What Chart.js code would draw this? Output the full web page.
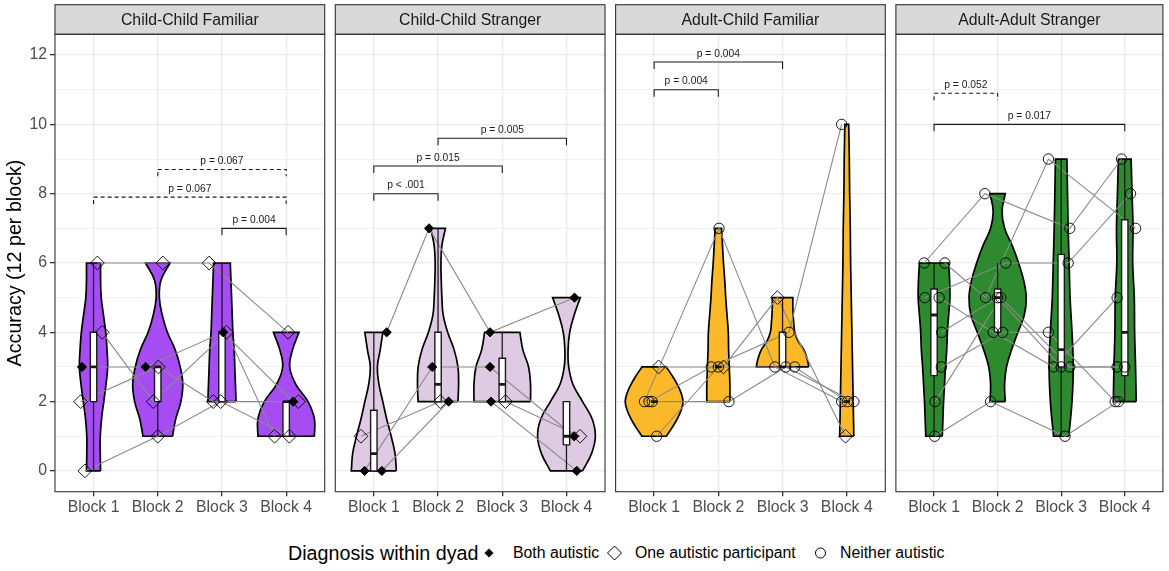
<!DOCTYPE html>
<html>
<head>
<meta charset="utf-8">
<script src="https://cdn.jsdelivr.net/npm/chart.js@4/dist/chart.umd.min.js"></script>
<style>
  body { margin: 0; background: #fff; width: 1169px; height: 571px; overflow: hidden; position: relative;
         font-family: "Liberation Sans", Arial, Helvetica, sans-serif; }
  canvas { position: absolute; left: 0; top: 0; }
  #legend { position: absolute; left: 0; top: 553px; width: 1169px; height: 0; }
  #legend > * { position: absolute; transform: translateY(-50%); white-space: nowrap; }
  #legend .title { font-size: 19.7px; color: #000; }
  #legend .item { font-size: 15.8px; color: #000; }
</style>
</head>
<body>
<canvas id="p0" width="1169" height="530"></canvas>
<canvas id="p1" width="1169" height="530"></canvas>
<canvas id="p2" width="1169" height="530"></canvas>
<canvas id="p3" width="1169" height="530"></canvas>

<div id="legend">
  <span class="title" style="left:288px">Diagnosis within dyad</span>
  <svg style="left:483px" width="12" height="12"><polygon points="6,1.5 10.5,6 6,10.5 1.5,6" fill="#000"/></svg>
  <span class="item" style="left:513px">Both autistic</span>
  <svg style="left:606px" width="17" height="17"><polygon points="8.5,1.5 15.5,8.5 8.5,15.5 1.5,8.5" fill="none" stroke="#000" stroke-width="1"/></svg>
  <span class="item" style="left:635px">One autistic participant</span>
  <svg style="left:814px" width="13" height="13"><circle cx="6.5" cy="6.5" r="5" fill="none" stroke="#000" stroke-width="1"/></svg>
  <span class="item" style="left:840px">Neither autistic</span>
</div>

<script>
const FONT = '"Liberation Sans", Arial, Helvetica, sans-serif';

const panelTitles = ['Child-Child Familiar', 'Child-Child Stranger', 'Adult-Child Familiar', 'Adult-Adult Stranger'];
const blocks = ['Block 1', 'Block 2', 'Block 3', 'Block 4'];
const yTickLabels = [0, 2, 4, 6, 8, 10, 12];
const yMinorLines = [1, 3, 5, 7, 9, 11];

// one row per dyad, one score per block
const ccfScores = [[3, 3, 4, 2], [6, 6, 6, 4], [4, 2, 4, 1], [2, 3, 2, 2], [0, 1, 2, 1]];
const ccfDiagnosis = ['both', 'one', 'one', 'one', 'one'];
const ccfJitter = [[-0.18, -0.19, 0.02, 0.11], [0.06, 0.08, -0.2, 0.03], [0.135, -0.07, 0.07, -0.18],
                   [-0.2, 0.01, -0.135, 0.19], [-0.135, 0, -0.02, 0.05]];
// violin half widths, bottom (block min) to top (block max), evenly spaced
const ccfViolin = [
  [0.11, 0.105, 0.105, 0.125, 0.16, 0.195, 0.22, 0.21, 0.19, 0.155, 0.12, 0.11, 0.11],
  [0.23, 0.28, 0.36, 0.39, 0.35, 0.27, 0.15, 0.07, 0.025, 0.05, 0.19],
  [0.22, 0.21, 0.2, 0.19, 0.17, 0.16, 0.15, 0.14, 0.13],
  [0.44, 0.44, 0.34, 0.15, 0.055, 0.1, 0.2]
];
const ccfPairs = [[2, 4], [1, 4], [3, 4]];
const ccfPairY = [8.7, 7.9, 7.0];
const ccfPairP = ['p = 0.067', 'p = 0.067', 'p = 0.004'];
const ccfPairDashed = [true, true, false];

const ccsScores = [[4, 7, 4, 5], [0, 3, 3, 1], [0, 2, 2, 0], [1, 2, 2, 1]];
const ccsDiagnosis = ['both', 'both', 'both', 'one'];
const ccsJitter = [[0.2, -0.14, -0.19, 0.125], [-0.145, -0.09, -0.19, 0.12],
                   [0.125, 0.165, -0.175, 0.16], [-0.2, 0.035, 0.05, 0.21]];
const ccsViolin = [
  [0.35, 0.33, 0.27, 0.2, 0.14, 0.08, 0.055, 0.1, 0.14],
  [0.31, 0.32, 0.31, 0.25, 0.15, 0.08, 0.06, 0.05, 0.045, 0.06, 0.115],
  [0.44, 0.44, 0.41, 0.32, 0.275],
  [0.25, 0.39, 0.45, 0.4, 0.25, 0.1, 0.035, 0.025, 0.05, 0.12, 0.215]
];
const ccsPairs = [[2, 4], [1, 3], [1, 2]];
const ccsPairY = [9.6, 8.8, 8.0];
const ccsPairP = ['p = 0.005', 'p = 0.015', 'p < .001'];
const ccsPairDashed = [false, false, false];

const acfScores = [[3, 3, 5, 1], [2, 7, 3, 2], [2, 3, 4, 10], [2, 2, 3, 2], [1, 3, 3, 2]];
const acfDiagnosis = ['one', 'neither', 'neither', 'neither', 'neither'];
const acfJitter = [[0.07, 0.08, -0.08, -0.02], [-0.15, 0.01, -0.12, -0.08], [-0.08, -0.11, 0.1, -0.08],
                   [-0.03, 0.165, 0.05, 0.11], [0.04, 0, 0.19, 0.01]];
const acfViolin = [
  [0.19, 0.28, 0.36, 0.42, 0.45, 0.42, 0.36, 0.28, 0.19],
  [0.18, 0.18, 0.17, 0.16, 0.155, 0.135, 0.115, 0.1, 0.08, 0.065, 0.05],
  [0.41, 0.38, 0.33, 0.24, 0.19, 0.175, 0.165, 0.16, 0.16],
  [0.11, 0.1, 0.09, 0.08, 0.07, 0.06, 0.055, 0.045, 0.04, 0.03]
];
const acfPairs = [[1, 3], [1, 2]];
const acfPairY = [11.8, 11.0];
const acfPairP = ['p = 0.004', 'p = 0.004'];
const acfPairDashed = [false, false];

const aasScores = [[6, 8, 7, 9], [6, 5, 9, 7], [5, 6, 6, 8], [5, 4, 3, 5],
                   [4, 5, 3, 3], [3, 4, 4, 2], [2, 5, 3, 3], [1, 2, 1, 2]];
const aasDiagnosis = ['neither', 'neither', 'neither', 'neither', 'neither', 'neither', 'neither', 'neither'];
const aasJitter = [[-0.155, -0.2, 0.135, -0.05], [0.17, -0.19, -0.2, 0.17], [-0.145, 0.13, 0.11, 0.09],
                   [0.08, -0.07, -0.12, -0.12], [0.12, 0, 0, -0.12], [0.115, 0.08, -0.2, -0.15],
                   [0.015, 0.05, 0.135, 0], [0.01, -0.11, 0.06, -0.1]];
const aasViolin = [
  [0.13, 0.14, 0.15, 0.165, 0.18, 0.2, 0.21, 0.23, 0.25, 0.245, 0.23],
  [0.12, 0.11, 0.14, 0.22, 0.32, 0.42, 0.45, 0.41, 0.33, 0.23, 0.11, 0.07, 0.12],
  [0.12, 0.17, 0.19, 0.17, 0.14, 0.125, 0.11, 0.1, 0.09],
  [0.18, 0.17, 0.155, 0.15, 0.125, 0.13, 0.115, 0.1]
];
const aasPairs = [[1, 2], [1, 4]];
const aasPairY = [10.9, 10.0];
const aasPairP = ['p = 0.052', 'p = 0.017'];
const aasPairDashed = [true, false];

// ---- look ----
const violinColors = ['#A64CF3', '#DECAE3', '#FBB829', '#2E8A2E'];
const PANEL_LEFT = 55, PANEL_W = 269.7, PANEL_PITCH = 280.3;
const STRIP_TOP = 4.7, AREA_TOP = 34.3, CANVAS_H = 530, AREA_BOTTOM = 491.7;
const BOX_HALF = 0.05, TIP = 0.2;
const pointLook = {
  both:    { pointStyle: 'rectRot', pointRadius: 4.6, pointBackgroundColor: '#000', pointBorderWidth: 1 },
  one:     { pointStyle: 'rectRot', pointRadius: 6.9, pointBackgroundColor: 'rgba(0,0,0,0)', pointBorderWidth: 0.9 },
  neither: { pointStyle: 'circle',  pointRadius: 5.2, pointBackgroundColor: 'rgba(0,0,0,0)', pointBorderWidth: 0.9 }
};

const panels = [
  { scores: ccfScores, diag: ccfDiagnosis, jitter: ccfJitter, violin: ccfViolin, pairs: ccfPairs, pairY: ccfPairY, pairP: ccfPairP, dashed: ccfPairDashed },
  { scores: ccsScores, diag: ccsDiagnosis, jitter: ccsJitter, violin: ccsViolin, pairs: ccsPairs, pairY: ccsPairY, pairP: ccsPairP, dashed: ccsPairDashed },
  { scores: acfScores, diag: acfDiagnosis, jitter: acfJitter, violin: acfViolin, pairs: acfPairs, pairY: acfPairY, pairP: acfPairP, dashed: acfPairDashed },
  { scores: aasScores, diag: aasDiagnosis, jitter: aasJitter, violin: aasViolin, pairs: aasPairs, pairY: aasPairY, pairP: aasPairP, dashed: aasPairDashed }
];

function quantile(sorted, p) {
  const h = (sorted.length - 1) * p;
  const lo = Math.floor(h);
  const next = lo + 1 < sorted.length ? sorted[lo + 1] : sorted[lo];
  return sorted[lo] + (h - lo) * (next - sorted[lo]);
}

function boxStats(values) {
  const s = [...values].sort((a, b) => a - b);
  const q1 = quantile(s, 0.25), med = quantile(s, 0.5), q3 = quantile(s, 0.75);
  const iqr = q3 - q1;
  const lo = Math.min(...s.filter(v => v >= q1 - 1.5 * iqr));
  const hi = Math.max(...s.filter(v => v <= q3 + 1.5 * iqr));
  return { q1, med, q3, lo, hi };
}

// closed outline: right side upwards, left side downwards, corners doubled to stay sharp
function violinOutline(center, lo, hi, widths) {
  const n = widths.length;
  const ys = widths.map((w, k) => lo + (hi - lo) * k / (n - 1));
  const right = widths.map((w, k) => ({ x: center + w, y: ys[k] }));
  const left = widths.map((w, k) => ({ x: center - w, y: ys[k] })).reverse();
  return [right[0], ...right, right[n - 1], left[0], ...left, left[n - 1], right[0]];
}

function buildDatasets(p, color) {
  const sets = [];
  const byBlock = blocks.map((b, j) => p.scores.map(row => row[j]));

  byBlock.forEach((vals, j) => {
    const c = j + 1;
    sets.push({
      data: violinOutline(c, Math.min(...vals), Math.max(...vals), p.violin[j]),
      showLine: true, tension: 0.4, borderColor: '#000', borderWidth: 1.7,
      pointRadius: 0, areaColor: color, order: 6
    });
    const st = boxStats(vals);
    sets.push({
      data: [{ x: c, y: st.hi }, { x: c, y: st.q3 }, { x: c, y: null }, { x: c, y: st.q1 }, { x: c, y: st.lo }],
      showLine: true, borderColor: '#1A1A1A', borderWidth: 1.3, pointRadius: 0, order: 4
    });
    sets.push({
      data: [{ x: c - BOX_HALF, y: st.q1 }, { x: c + BOX_HALF, y: st.q1 }, { x: c + BOX_HALF, y: st.q3 },
             { x: c - BOX_HALF, y: st.q3 }, { x: c - BOX_HALF, y: st.q1 }],
      showLine: true, borderColor: '#1A1A1A', borderWidth: 1.4, pointRadius: 0, areaColor: '#fff', order: 3
    });
    sets.push({
      data: [{ x: c - BOX_HALF, y: st.med }, { x: c + BOX_HALF, y: st.med }],
      showLine: true, borderColor: '#1A1A1A', borderWidth: 2.8, pointRadius: 0, order: 2
    });
  });

  p.scores.forEach((row, d) => {
    const pts = row.map((v, j) => ({ x: j + 1 + p.jitter[d][j], y: v }));
    sets.push({ data: pts, showLine: true, borderColor: '#8A8A8A', borderWidth: 1.1, pointRadius: 0, order: 5 });
    sets.push(Object.assign({ data: pts, showLine: false, pointBorderColor: '#000', order: 0 }, pointLook[p.diag[d]]));
  });

  p.pairs.forEach(([a, b], k) => {
    const y = p.pairY[k];
    sets.push({
      data: [{ x: a, y: y - TIP }, { x: a, y }, { x: b, y }, { x: b, y: y - TIP }],
      showLine: true, borderColor: '#1A1A1A', borderWidth: 1.1, borderDash: p.dashed[k] ? [4, 3] : [],
      pointRadius: 0, pText: p.pairP[k], order: 1
    });
  });
  return sets;
}

const areaFill = {
  id: 'areaFill',
  beforeDatasetDraw(chart, args) {
    const ds = chart.data.datasets[args.index];
    if (!ds.areaColor) return;
    const line = args.meta.dataset;
    const { ctx, chartArea: a } = chart;
    line.updateControlPoints(a, 'x');
    ctx.save();
    ctx.beginPath();
    ctx.rect(a.left, a.top, a.right - a.left, a.bottom - a.top);
    ctx.clip();
    ctx.beginPath();
    line.path(ctx);
    ctx.closePath();
    ctx.fillStyle = ds.areaColor;
    ctx.fill();
    ctx.restore();
  }
};

const pLabels = {
  id: 'pLabels',
  afterDatasetsDraw(chart) {
    const { ctx } = chart;
    ctx.save();
    ctx.font = '10.3px ' + FONT;
    ctx.fillStyle = '#1A1A1A';
    ctx.textAlign = 'center';
    ctx.textBaseline = 'bottom';
    chart.data.datasets.forEach((ds, i) => {
      if (!ds.pText) return;
      const pts = chart.getDatasetMeta(i).data;
      ctx.fillText(ds.pText, (pts[1].x + pts[2].x) / 2, pts[1].y - 3);
    });
    ctx.restore();
  }
};

const panelFrame = {
  id: 'panelFrame',
  afterDraw(chart, args, opts) {
    const { ctx, chartArea: a } = chart;
    const w = a.right - a.left;
    ctx.save();
    ctx.fillStyle = '#D9D9D9';
    ctx.fillRect(a.left, STRIP_TOP, w, a.top - STRIP_TOP);
    ctx.strokeStyle = '#333';
    ctx.lineWidth = 1.1;
    ctx.strokeRect(a.left, STRIP_TOP, w, a.top - STRIP_TOP);
    ctx.strokeRect(a.left, a.top, w, a.bottom - a.top);
    ctx.fillStyle = '#1A1A1A';
    ctx.font = '15.8px ' + FONT;
    ctx.textAlign = 'center';
    ctx.textBaseline = 'middle';
    ctx.fillText(opts.title, a.left + w / 2, (STRIP_TOP + a.top) / 2 + 1);
    ctx.restore();
  }
};

panels.forEach((p, i) => {
  const left = PANEL_LEFT + i * PANEL_PITCH;
  const first = i === 0;
  new Chart(document.getElementById('p' + i), {
    type: 'scatter',
    data: { datasets: buildDatasets(p, violinColors[i]) },
    plugins: [areaFill, pLabels, panelFrame],
    options: {
      responsive: false,
      animation: false,
      events: [],
      layout: { padding: { left: first ? 0 : left, right: 1169 - left - PANEL_W, top: AREA_TOP, bottom: 0 } },
      plugins: { legend: { display: false }, tooltip: { enabled: false }, panelFrame: { title: panelTitles[i] } },
      scales: {
        x: {
          type: 'linear', min: 0.4, max: 4.6,
          afterBuildTicks: s => { s.ticks = blocks.map((b, j) => ({ value: j + 1 })); },
          afterFit: s => { s.height = CANVAS_H - AREA_BOTTOM; },
          ticks: { callback: (v, j) => blocks[j], color: '#4D4D4D', font: { family: FONT, size: 15.8 },
                   padding: 2, maxRotation: 0, autoSkip: false },
          grid: { color: '#EBEBEB', lineWidth: 1.3, tickLength: 4.5, tickColor: '#333' },
          border: { display: false }
        },
        y: {
          min: -0.6, max: 12.6,
          afterBuildTicks: s => { s.ticks = [...yTickLabels, ...yMinorLines].sort((a, b) => a - b).map(v => ({ value: v })); },
          afterFit: s => { s.width = first ? PANEL_LEFT : 0; },
          ticks: { display: first, callback: v => (yTickLabels.includes(v) ? String(v) : ''),
                   color: '#4D4D4D', font: { family: FONT, size: 15.8 }, padding: 3 },
          grid: {
            color: '#EBEBEB',
            lineWidth: c => (yTickLabels.includes(c.tick.value) ? 1.3 : 0.7),
            drawTicks: first, tickLength: 5,
            tickColor: c => (yTickLabels.includes(c.tick.value) ? '#333' : 'rgba(0,0,0,0)')
          },
          border: { display: false },
          title: { display: first, text: 'Accuracy (12 per block)', color: '#000',
                   font: { family: FONT, size: 19.7 }, padding: { top: 4, bottom: 0 } }
        }
      }
    }
  });
});
</script>
</body>
</html>
